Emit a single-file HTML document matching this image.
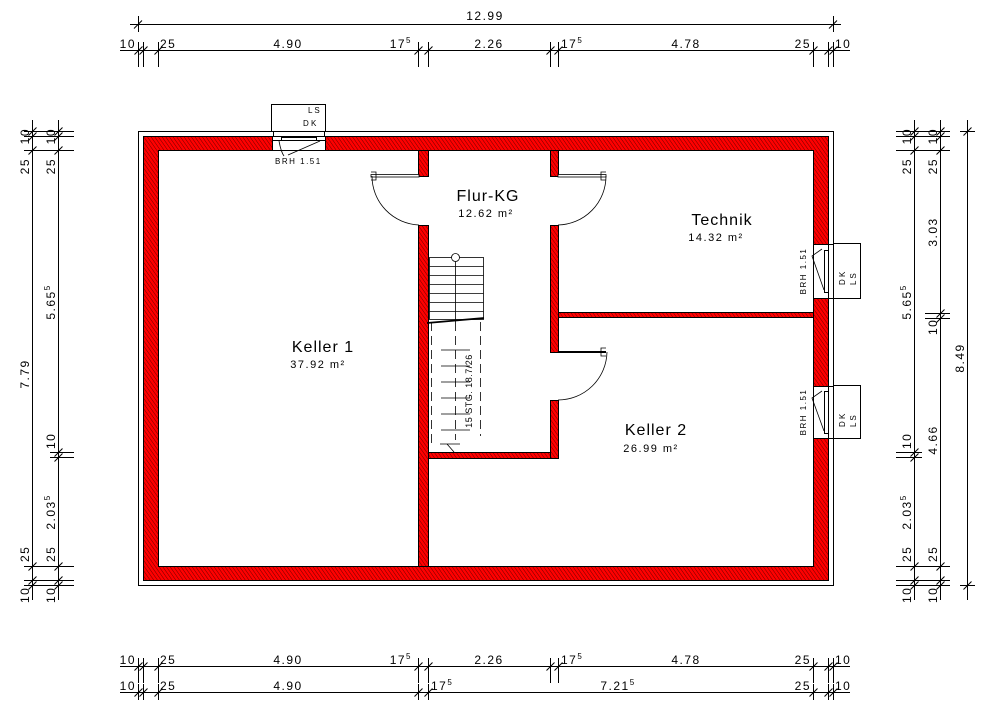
<!DOCTYPE html>
<html><head><meta charset="utf-8"><style>
html,body{margin:0;padding:0;background:#fff;}
svg{display:block;}
text{font-family:"Liberation Sans",sans-serif;fill:#000;}
.d{font-size:12px;letter-spacing:1.5px;}
.s{font-size:8px;}
</style></head><body>
<svg width="1000" height="720" viewBox="0 0 1000 720" xmlns="http://www.w3.org/2000/svg">
<defs>
<pattern id="h" width="3" height="3" patternUnits="userSpaceOnUse" patternTransform="rotate(-35)">
<rect width="3" height="3" fill="#ff0000"/>
<line x1="0" y1="0" x2="0" y2="3" stroke="#5a0000" stroke-width="0.9"/>
</pattern>
</defs>
<g stroke="#000" stroke-width="1" fill="none">
<rect x="138.5" y="131.5" width="695" height="454"/>
</g>
<g fill="url(#h)" stroke="#000" stroke-width="1">
<path fill-rule="evenodd" d="M143.5 136.5H828.5V580.5H143.5Z M158.5 150.5H813.5V566.5H158.5Z"/>
<rect x="418.5" y="150.5" width="10" height="26"/>
<rect x="418.5" y="225.5" width="10" height="341"/>
<rect x="550.5" y="150.5" width="8" height="26"/>
<rect x="550.5" y="225.5" width="8" height="127"/>
<rect x="550.5" y="400.5" width="8" height="58"/>
<rect x="428.5" y="452.5" width="122" height="6"/>
<rect x="558.5" y="312.5" width="255" height="5"/>
</g>
<g fill="#fff" stroke="#000" stroke-width="1">
<rect x="271.5" y="104.5" width="54" height="27"/>
<rect x="273.5" y="131.5" width="51" height="5"/>
<rect x="272.5" y="136.5" width="53" height="14"/>
<rect x="272.5" y="136.5" width="9" height="4"/>
<rect x="316.5" y="136.5" width="9" height="4"/>
<rect x="281.5" y="137.5" width="35" height="3"/>
</g>
<path d="M279 141 Q281 152 284 156 M288 155 L320 141" stroke="#000" fill="none" stroke-width="0.8"/>
<text x="308" y="113" class="s">L S</text>
<text x="303" y="126" class="s">D K</text>
<text x="275" y="164" class="s" style="letter-spacing:1.5px">BRH 1.51</text>
<g fill="#fff" stroke="#000" stroke-width="1">
<rect x="813.5" y="244.5" width="15" height="54"/>
<rect x="828.5" y="244.5" width="5" height="54"/>
<rect x="824.5" y="250.5" width="4" height="42"/>
<rect x="833.5" y="243.5" width="27" height="55"/>
<rect x="813.5" y="386.5" width="15" height="52"/>
<rect x="828.5" y="386.5" width="5" height="52"/>
<rect x="824.5" y="391.5" width="4" height="42"/>
<rect x="833.5" y="385.5" width="27" height="53"/>
</g>
<path d="M822 249 L812 256 L824 290 M822 391 L812 398 L824 431" stroke="#000" fill="none" stroke-width="0.8"/>
<text transform="translate(806,271) rotate(-90)" text-anchor="middle" class="s" style="letter-spacing:1.5px">BRH 1.51</text>
<text transform="translate(806,412) rotate(-90)" text-anchor="middle" class="s" style="letter-spacing:1.5px">BRH 1.51</text>
<text transform="translate(845,285) rotate(-90)" class="s">D K</text>
<text transform="translate(856,285) rotate(-90)" class="s">L S</text>
<text transform="translate(845,427) rotate(-90)" class="s">D K</text>
<text transform="translate(856,427) rotate(-90)" class="s">L S</text>
<g stroke="#000" fill="none" stroke-width="0.8">
<rect x="371" y="174.5" width="48" height="2.5" fill="#fff"/>
<path d="M371 172 h5 v8 h-5 M372 176 A49 49 0 0 0 419 225"/>
<rect x="558" y="174.5" width="48" height="2.5" fill="#fff"/>
<path d="M606 172 h-5 v8 h5 M606 176 A49 49 0 0 1 558 225"/>
<line x1="558" y1="352" x2="606" y2="352" stroke-width="2"/>
<path d="M606 348 h-5 v8 h5 M607 352 A49 49 0 0 1 558 400"/>
</g>
<g stroke="#000" fill="none" stroke-width="0.8">
<rect x="429.5" y="257.5" width="54" height="62"/>
<path d="M429.5 266.5H483.5 M429.5 275.5H483.5 M429.5 284.5H483.5 M429.5 293.5H483.5 M429.5 302.5H483.5 M429.5 311.5H483.5 M455.5 261.5V322"/>
<circle cx="455.5" cy="257.5" r="4" fill="#fff"/>
<line x1="427" y1="323" x2="484" y2="318" stroke-width="1.8"/>
<path d="M431.5 322V447 M480.5 322V436 M455.5 322V440" stroke-dasharray="9,5"/>
<path d="M441 350H470 M441 366H470 M441 382H470 M441 398H470 M441 414H470 M441 430H470 M440 444H460 M447 444L454 452"/>
</g>
<text transform="translate(472,391) rotate(-90)" text-anchor="middle" style="font-size:9px;letter-spacing:0.5px">15 STG. 18.7/26</text>
<text x="488" y="201" text-anchor="middle" style="font-size:16px;letter-spacing:1px">Flur-KG</text>
<text x="486" y="217" text-anchor="middle" style="font-size:11px;letter-spacing:1.5px">12.62 m²</text>
<text x="722" y="225" text-anchor="middle" style="font-size:16px;letter-spacing:1px">Technik</text>
<text x="716" y="241" text-anchor="middle" style="font-size:11px;letter-spacing:1.5px">14.32 m²</text>
<text x="323" y="352" text-anchor="middle" style="font-size:16px;letter-spacing:1px">Keller 1</text>
<text x="318" y="368" text-anchor="middle" style="font-size:11px;letter-spacing:1.5px">37.92 m²</text>
<text x="656" y="435" text-anchor="middle" style="font-size:16px;letter-spacing:1px">Keller 2</text>
<text x="651" y="452" text-anchor="middle" style="font-size:11px;letter-spacing:1.5px">26.99 m²</text>
<g stroke="#000" stroke-width="1" fill="none">
<path d="M130 24.5H841 M138.5 16V32 M833.5 16V32 M134 28.5L142 20.5 M829 28.5L837 20.5"/>
<path d="M120 50.5H850"/>
<path d="M138.5 42V67 M143.5 42V67 M158.5 42V67 M418.5 42V67 M428.5 42V67 M550.5 42V67 M558.5 42V67 M813.5 42V67 M828.5 42V67 M833.5 42V67"/>
<path d="M134.5 54.5l8-8 M139.5 54.5l8-8 M154.5 54.5l8-8 M414.5 54.5l8-8 M424.5 54.5l8-8 M546.5 54.5l8-8 M554.5 54.5l8-8 M809.5 54.5l8-8 M824.5 54.5l8-8 M829.5 54.5l8-8"/>
<path d="M120 666.5H850"/>
<path d="M138.5 658V683 M143.5 658V683 M158.5 658V683 M418.5 658V683 M428.5 658V683 M550.5 658V683 M558.5 658V683 M813.5 658V683 M828.5 658V683 M833.5 658V683"/>
<path d="M134.5 670.5l8-8 M139.5 670.5l8-8 M154.5 670.5l8-8 M414.5 670.5l8-8 M424.5 670.5l8-8 M546.5 670.5l8-8 M554.5 670.5l8-8 M809.5 670.5l8-8 M824.5 670.5l8-8 M829.5 670.5l8-8"/>
<path d="M120 692.5H850"/>
<path d="M138.5 684V700 M143.5 684V700 M158.5 684V700 M418.5 684V700 M428.5 684V700 M813.5 684V700 M828.5 684V700 M833.5 684V700"/>
<path d="M134.5 696.5l8-8 M139.5 696.5l8-8 M154.5 696.5l8-8 M414.5 696.5l8-8 M424.5 696.5l8-8 M809.5 696.5l8-8 M824.5 696.5l8-8 M829.5 696.5l8-8"/>
<path d="M32.5 120V600 M58.5 120V600"/>
<path d="M24 131.5H74 M24 136.5H74 M24 150.5H74 M50 452.5H74 M50 457.5H74 M24 566.5H74 M24 580.5H74 M24 585.5H74"/>
<path d="M28.5 135.5l8-8 M28.5 140.5l8-8 M28.5 154.5l8-8 M28.5 570.5l8-8 M28.5 584.5l8-8 M28.5 589.5l8-8 M54.5 135.5l8-8 M54.5 140.5l8-8 M54.5 154.5l8-8 M54.5 456.5l8-8 M54.5 461.5l8-8 M54.5 570.5l8-8 M54.5 584.5l8-8 M54.5 589.5l8-8"/>
<path d="M914.5 120V600 M940.5 120V600 M967.5 120V600"/>
<path d="M896 131.5H950 M896 136.5H950 M896 150.5H950 M896 452.5H922 M896 457.5H922 M925 313.5H950 M925 318.5H950 M896 566.5H950 M896 580.5H950 M896 585.5H950 M960 131.5H975 M960 585.5H975"/>
<path d="M910.5 135.5l8-8 M910.5 140.5l8-8 M910.5 154.5l8-8 M910.5 456.5l8-8 M910.5 461.5l8-8 M910.5 570.5l8-8 M910.5 584.5l8-8 M910.5 589.5l8-8 M936.5 135.5l8-8 M936.5 140.5l8-8 M936.5 154.5l8-8 M936.5 317.5l8-8 M936.5 322.5l8-8 M936.5 570.5l8-8 M936.5 584.5l8-8 M936.5 589.5l8-8 M963.5 135.5l8-8 M963.5 589.5l8-8"/>
</g>
<text x="485" y="20" text-anchor="middle" class="d">12.99</text>
<text x="136" y="48" text-anchor="end" class="d">10</text>
<text x="160" y="48" class="d">25</text>
<text x="288" y="48" text-anchor="middle" class="d">4.90</text>
<text x="412" y="48" text-anchor="end" class="d">17<tspan dy="-5" style="font-size:8px">5</tspan></text>
<text x="489" y="48" text-anchor="middle" class="d">2.26</text>
<text x="561" y="48" class="d">17<tspan dy="-5" style="font-size:8px">5</tspan></text>
<text x="686" y="48" text-anchor="middle" class="d">4.78</text>
<text x="811" y="48" text-anchor="end" class="d">25</text>
<text x="835" y="48" class="d">10</text>
<text x="136" y="664" text-anchor="end" class="d">10</text>
<text x="160" y="664" class="d">25</text>
<text x="288" y="664" text-anchor="middle" class="d">4.90</text>
<text x="412" y="664" text-anchor="end" class="d">17<tspan dy="-5" style="font-size:8px">5</tspan></text>
<text x="489" y="664" text-anchor="middle" class="d">2.26</text>
<text x="561" y="664" class="d">17<tspan dy="-5" style="font-size:8px">5</tspan></text>
<text x="686" y="664" text-anchor="middle" class="d">4.78</text>
<text x="811" y="664" text-anchor="end" class="d">25</text>
<text x="835" y="664" class="d">10</text>
<text x="136" y="690" text-anchor="end" class="d">10</text>
<text x="160" y="690" class="d">25</text>
<text x="288" y="690" text-anchor="middle" class="d">4.90</text>
<text x="431" y="690" class="d">17<tspan dy="-5" style="font-size:8px">5</tspan></text>
<text x="618" y="690" text-anchor="middle" class="d">7.21<tspan dy="-5" style="font-size:8px">5</tspan></text>
<text x="811" y="690" text-anchor="end" class="d">25</text>
<text x="835" y="690" class="d">10</text>
<g class="d">
<text transform="translate(29,128) rotate(-90)" text-anchor="end">10</text>
<text transform="translate(29,158) rotate(-90)" text-anchor="end">25</text>
<text transform="translate(29,374) rotate(-90)" text-anchor="middle">7.79</text>
<text transform="translate(29,562) rotate(-90)">25</text>
<text transform="translate(29,603) rotate(-90)">10</text>
<text transform="translate(55,128) rotate(-90)" text-anchor="end">10</text>
<text transform="translate(55,158) rotate(-90)" text-anchor="end">25</text>
<text transform="translate(55,302) rotate(-90)" text-anchor="middle">5.65<tspan dy="-5" style="font-size:8px">5</tspan></text>
<text transform="translate(55,449) rotate(-90)">10</text>
<text transform="translate(55,512) rotate(-90)" text-anchor="middle">2.03<tspan dy="-5" style="font-size:8px">5</tspan></text>
<text transform="translate(55,562) rotate(-90)">25</text>
<text transform="translate(55,603) rotate(-90)">10</text>
<text transform="translate(911,128) rotate(-90)" text-anchor="end">10</text>
<text transform="translate(911,158) rotate(-90)" text-anchor="end">25</text>
<text transform="translate(911,302) rotate(-90)" text-anchor="middle">5.65<tspan dy="-5" style="font-size:8px">5</tspan></text>
<text transform="translate(911,449) rotate(-90)">10</text>
<text transform="translate(911,512) rotate(-90)" text-anchor="middle">2.03<tspan dy="-5" style="font-size:8px">5</tspan></text>
<text transform="translate(911,562) rotate(-90)">25</text>
<text transform="translate(911,603) rotate(-90)">10</text>
<text transform="translate(937,128) rotate(-90)" text-anchor="end">10</text>
<text transform="translate(937,158) rotate(-90)" text-anchor="end">25</text>
<text transform="translate(937,232) rotate(-90)" text-anchor="middle">3.03</text>
<text transform="translate(937,335) rotate(-90)">10</text>
<text transform="translate(937,440) rotate(-90)" text-anchor="middle">4.66</text>
<text transform="translate(937,562) rotate(-90)">25</text>
<text transform="translate(937,603) rotate(-90)">10</text>
<text transform="translate(964,358) rotate(-90)" text-anchor="middle">8.49</text>
</g>
</svg>
</body></html>
